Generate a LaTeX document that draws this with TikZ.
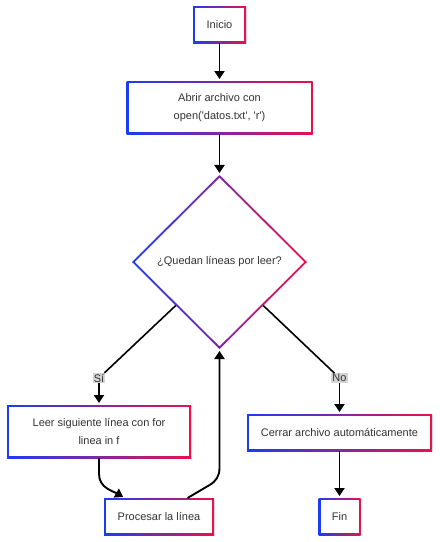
\documentclass[tikz,border=0pt]{standalone}
\usepackage{fontspec}
\setmainfont{Liberation Sans}
\usetikzlibrary{arrows.meta,calc,shapes.geometric,shadows}

\definecolor{gazul}{RGB}{26,60,245}
\definecolor{grojo}{RGB}{235,16,78}
\definecolor{texto}{RGB}{51,51,51}
\definecolor{etiq}{RGB}{212,212,212}

\tikzset{
    caja/.style={rectangle, outer sep=0pt, inner sep=2pt, align=center,
        left color=gazul, right color=grojo, text=texto,
        drop shadow={shadow xshift=0.8pt, shadow yshift=-0.8pt, opacity=0.12},
        path picture={\fill[white]
            ($(path picture bounding box.south west)+(2pt,2pt)$) rectangle
            ($(path picture bounding box.north east)+(-2pt,-2pt)$);}},
    rombo/.style={diamond, aspect=1, outer sep=0pt, inner sep=0pt,
        left color=gazul, right color=grojo, text=texto,
        path picture={\fill[white]
            ($(path picture bounding box.north)+(0pt,-2.8pt)$) --
            ($(path picture bounding box.east)+(-2.8pt,0pt)$) --
            ($(path picture bounding box.south)+(0pt,2.8pt)$) --
            ($(path picture bounding box.west)+(2.8pt,0pt)$) -- cycle;}},
    etiqueta/.style={fill=etiq, text=texto, inner sep=1pt, outer sep=0pt},
    flecha/.style={line width=1.9pt, shorten >=2pt, -{Triangle[length=8pt,width=10pt]}},
    linea/.style={line width=1.6pt}
}

\begin{document}
\begin{tikzpicture}[x=1pt, y=1pt, font=\fontsize{11}{17.5}\selectfont]
    \useasboundingbox (0,0) rectangle (440,-542);
    % nodos del diagrama
    \node[caja, minimum width=53pt, minimum height=37pt] (inicio) at (219.5,-24.5) {Inicio};
    \node[caja, minimum width=186pt, minimum height=53pt] (abrir) at (219.5,-107.5)
        {Abrir archivo con\\open(\textquotesingle datos.txt\textquotesingle, \textquotesingle r\textquotesingle)};
    \node[rombo, minimum width=175pt, minimum height=174pt] (decision) at (219.5,-262) {¿Quedan líneas por leer?};
    \node[caja, minimum width=184pt, minimum height=53pt] (leer) at (99,-431.5)
        {Leer siguiente línea con for\\linea in f};
    \node[caja, minimum width=110pt, minimum height=37pt] (procesar) at (159,-516.5) {Procesar la línea};
    \node[caja, minimum width=185pt, minimum height=37pt] (cerrar) at (339.5,-432.5) {Cerrar archivo automáticamente};
    \node[caja, minimum width=42pt, minimum height=37pt] (fin) at (339.5,-516.5) {Fin};
    % etiquetas de las ramas
    \node[etiqueta] (si) at (99,-378) {Sí};
    \node[etiqueta] (no) at (339.5,-378) {No};
    % puntos de entrada y salida en procesar
    \coordinate (entrada) at ($(procesar.north west)!0.19!(procesar.north east)$);
    \coordinate (salida) at ($(procesar.north west)!0.76!(procesar.north east)$);
    % conectores
    \draw[flecha] (inicio) -- (abrir);
    \draw[flecha] (abrir) -- (decision);
    \draw[linea] (decision.south west) -- (si);
    \draw[flecha] (si) -- (leer);
    \draw[linea] (decision.south east) -- (no);
    \draw[flecha] (no) -- (cerrar);
    \draw[flecha] (cerrar) -- (fin);
    \draw[flecha] (leer.south) -- ++(0,-16) to[out=-90, in=150] (entrada);
    \draw[flecha] (salida) -- ++(22,13) to[out=30, in=-90] ($(decision.south |- leer.south)+(0,-10)$) -- (decision.south);
\end{tikzpicture}
\end{document}
